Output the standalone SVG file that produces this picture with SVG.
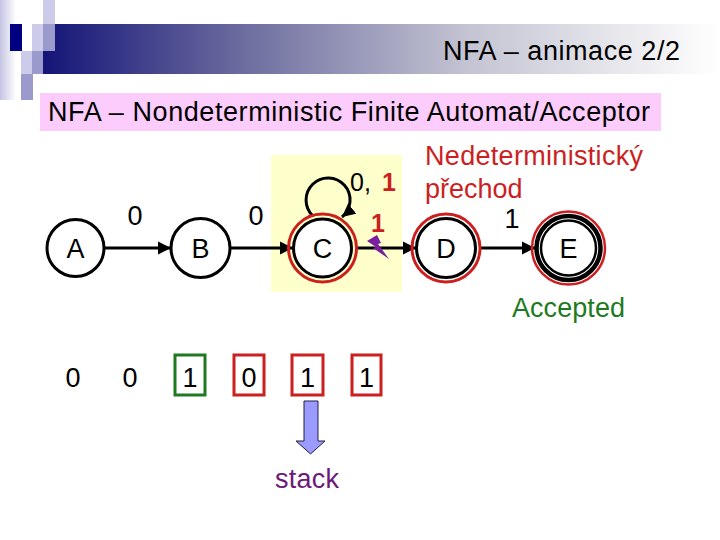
<svg xmlns="http://www.w3.org/2000/svg" width="720" height="540" viewBox="0 0 720 540">
<defs>
<linearGradient id="band" x1="43" y1="0" x2="720" y2="0" gradientUnits="userSpaceOnUse">
<stop offset="0" stop-color="#141478"/>
<stop offset="0.3" stop-color="#6e6ea0"/>
<stop offset="0.62" stop-color="#c2c2d2"/>
<stop offset="0.88" stop-color="#ececf0"/>
<stop offset="1" stop-color="#ffffff"/>
</linearGradient>
<linearGradient id="strip" x1="0" y1="0" x2="1" y2="0">
<stop offset="0" stop-color="#c4c4e2"/>
<stop offset="1" stop-color="#ffffff"/>
</linearGradient>
<marker id="ah" viewBox="0 0 10 10" refX="10" refY="5" markerWidth="4.4" markerHeight="4.4" orient="auto" markerUnits="strokeWidth">
<path d="M0,0 L10,5 L0,10 z" fill="#000"/>
</marker>
<style>
text{font-family:"Liberation Sans",Arial,sans-serif;font-size:27px;fill:#000}
.st{fill:#fff;stroke:#000;stroke-width:3}
.red{fill:none;stroke:#cc1f1f;stroke-width:3}
.edge{fill:none;stroke:#000;stroke-width:3;marker-end:url(#ah)}
.lbl{text-anchor:middle}
.r{fill:#cc1f1f}
.tb{fill:none;stroke-width:3}
</style>
</defs>
<!-- header decoration -->
<rect x="0" y="0" width="16" height="100" fill="url(#strip)"/>
<rect x="43" y="24" width="677" height="50" fill="url(#band)"/>
<rect x="10" y="24" width="12" height="27" fill="#000080"/>
<rect x="32" y="24" width="11" height="27" fill="#ccccea"/>
<rect x="43" y="0" width="12" height="24" fill="#ccccea"/>
<rect x="43" y="24" width="12" height="27" fill="#9a9acc"/>
<rect x="21" y="51" width="11" height="23" fill="#ccccea"/>
<rect x="32" y="51" width="11" height="23" fill="#9a9acc"/>
<rect x="21" y="74" width="12" height="26" fill="#9a9acc"/>
<text x="680" y="60" text-anchor="end" textLength="237">NFA – animace 2/2</text>
<rect x="40" y="93" width="621" height="38" fill="#fcccfc"/>
<text x="48" y="121" textLength="602">NFA – Nondeterministic Finite Automat/Acceptor</text>
<!-- highlight -->
<rect x="271" y="155" width="131" height="137" fill="#ffffcc"/>
<g id="connectors">
<line class="edge" x1="104" y1="248" x2="171" y2="248"/>
<line class="edge" x1="230" y1="248" x2="293" y2="248"/>
<path class="edge" d="M313,216 A22,22 0 1 1 342,217"/>
<line class="edge" x1="357" y1="248" x2="416" y2="248"/>
<line class="edge" x1="480" y1="248" x2="535" y2="248"/>
<text class="lbl" x="135" y="225">0</text>
<text class="lbl" x="256" y="225">0</text>
<text x="350" y="191" style="font-size:25px">0,</text>
<text x="382" y="191" class="r" style="font-weight:bold;font-size:25px">1</text>
<text x="371" y="232" class="r" style="font-weight:bold;font-size:25px">1</text>
<text class="lbl" x="512" y="228">1</text>
<polygon points="367,241 377,235 381,243 378,244 389,259 373,248 376,247" fill="#7a1fa0"/>
</g>
<g id="A"><circle class="st" cx="75.5" cy="248" r="28.5"/><text class="lbl" x="75.5" y="258">A</text></g>
<g id="B"><circle class="st" cx="200.5" cy="248" r="29.5"/><text class="lbl" x="200.5" y="258">B</text></g>
<g id="C"><circle class="st" cx="322.5" cy="248" r="29"/><circle class="red" cx="322.5" cy="248" r="34"/><text class="lbl" x="322.5" y="258">C</text></g>
<g id="D"><circle class="st" cx="446" cy="248" r="29.5"/><circle class="red" cx="446" cy="248" r="34"/><text class="lbl" x="446" y="258">D</text></g>
<g id="E"><circle class="st" cx="568.5" cy="248" r="32" style="stroke-width:4.5"/><circle fill="none" stroke="#000" stroke-width="2.5" cx="568.5" cy="248" r="27.5"/><circle class="red" cx="568.5" cy="248" r="36.5" style="stroke-width:2.5"/><text class="lbl" x="568.5" y="258">E</text></g>
<text x="425" y="165" class="r" textLength="218">Nedeterministický</text>
<text x="425" y="198" class="r">přechod</text>
<text x="512" y="317" style="fill:#1e7a1e" textLength="113">Accepted</text>
<!-- tape -->
<g id="tape">
<text class="lbl" x="73" y="387">0</text>
<text class="lbl" x="130" y="387">0</text>
<rect class="tb" x="175" y="355" width="30" height="40" stroke="#1e7a1e"/>
<text class="lbl" x="190" y="387">1</text>
<rect class="tb" x="234" y="355" width="30" height="40" stroke="#cc1f1f"/>
<text class="lbl" x="249" y="387">0</text>
<rect class="tb" x="292" y="355" width="31" height="40" stroke="#cc1f1f"/>
<text class="lbl" x="307.5" y="387">1</text>
<rect class="tb" x="352" y="355" width="29" height="40" stroke="#cc1f1f"/>
<text class="lbl" x="366.5" y="387">1</text>
</g>
<g id="stack">
<polygon points="304,401 318,401 318,441 325,441 310.5,454 296,441 304,441" fill="#9a9aff" stroke="#202040" stroke-width="1"/>
<text x="275" y="488" style="fill:#6e1a78" textLength="64">stack</text>
</g>
</svg>
